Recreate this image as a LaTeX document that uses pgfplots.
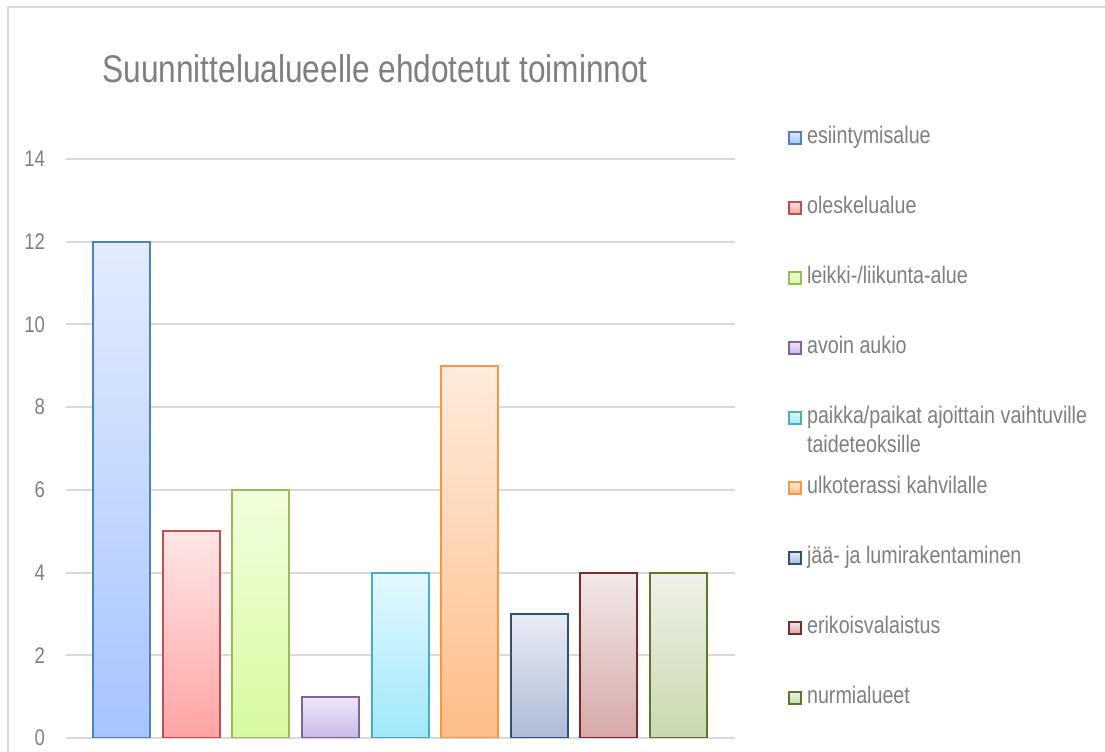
\documentclass[border=0pt]{standalone}
\usepackage{pgfplots}
\pgfplotsset{compat=1.18}
\usepackage{fontspec}
\setmainfont{Liberation Sans}[FakeStretch=0.82]
\definecolor{txt}{RGB}{127,127,127}
\definecolor{gridc}{RGB}{217,217,217}
\definecolor{bA}{HTML}{4F81BD}\definecolor{tA}{HTML}{E2ECFD}\definecolor{uA}{HTML}{A7C4FF}
\definecolor{bB}{HTML}{C0504D}\definecolor{tB}{HTML}{FFE6E6}\definecolor{uB}{HTML}{FFA3A3}
\definecolor{bC}{HTML}{9BBB59}\definecolor{tC}{HTML}{F0FFDD}\definecolor{uC}{HTML}{D7FA9E}
\definecolor{bD}{HTML}{8064A2}\definecolor{tD}{HTML}{EDE8F6}\definecolor{uD}{HTML}{C9B8E8}
\definecolor{bE}{HTML}{4BACC6}\definecolor{tE}{HTML}{E3F8FF}\definecolor{uE}{HTML}{A0E8FB}
\definecolor{bF}{HTML}{F79646}\definecolor{tF}{HTML}{FFEBDC}\definecolor{uF}{HTML}{FDBD88}
\definecolor{bG}{HTML}{2F4F7F}\definecolor{tG}{HTML}{E8ECF4}\definecolor{uG}{HTML}{AEBBD6}
\definecolor{bH}{HTML}{772C2A}\definecolor{tH}{HTML}{F2E8E8}\definecolor{uH}{HTML}{D6A9A8}
\definecolor{bI}{HTML}{5F7530}\definecolor{tI}{HTML}{EEF2E8}\definecolor{uI}{HTML}{C8D8AE}
\begin{document}
\begin{tikzpicture}[x=1pt,y=1pt]
\useasboundingbox (0,0) rectangle (552.5,375.5);
\draw[gridc, line width=1pt] (3.75,-10) |- (600,372);
\begin{axis}[
 at={(33pt,6.5pt)}, anchor=south west,
 scale only axis, width=334.5pt, height=289.5pt,
 xmin=-0.797, xmax=8.81, ymin=0, ymax=14,
 ytick={0,2,...,14}, xtick=\empty,
 axis line style={draw=none}, major tick length=0pt,
 ymajorgrids, grid style={draw=gridc, line width=1pt},
 yticklabel style={font=\fontsize{11.3}{13}\selectfont, text=txt, xshift=-7pt},
 /pgf/number format/assume math mode=true,
 ybar, bar width=28.5pt, bar shift=0pt,
 every axis plot/.append style={line width=1pt},
 title={Suunnittelualueelle ehdotetut toiminnot},
 title style={at={(0.462,1.136)}, anchor=center, font=\fontsize{19.3}{22}\selectfont, text=txt},
 legend style={at={(1.079,1.06)}, anchor=north west, draw=none, fill=none, inner sep=0pt,
   font=\fontsize{12}{14.5}\selectfont, row sep=22pt, column sep=1.5pt,
   nodes={text=txt, inner sep=1pt, text height=8.5pt, text depth=2.5pt}},
 legend cell align=left,
 legend image code/.code={\draw[#1, bar shift=0pt, line width=0.9pt] (0pt,-3pt) rectangle (6pt,3pt);},
]
\addplot[draw=bA, top color=tA, bottom color=uA] coordinates {(0,12)};
\addlegendentry{esiintymisalue}
\addplot[draw=bB, top color=tB, bottom color=uB] coordinates {(1,5)};
\addlegendentry{oleskelualue}
\addplot[draw=bC, top color=tC, bottom color=uC] coordinates {(2,6)};
\addlegendentry{leikki-/liikunta-alue}
\addplot[draw=bD, top color=tD, bottom color=uD] coordinates {(3,1)};
\addlegendentry{avoin aukio}
\addplot[draw=bE, top color=tE, bottom color=uE] coordinates {(4,4)};
\addlegendentry{\smash{\begin{tabular}[t]{@{}l@{}}paikka/paikat ajoittain vaihtuville\\taideteoksille\end{tabular}}}
\addplot[draw=bF, top color=tF, bottom color=uF] coordinates {(5,9)};
\addlegendentry{ulkoterassi kahvilalle}
\addplot[draw=bG, top color=tG, bottom color=uG] coordinates {(6,3)};
\addlegendentry{jää- ja lumirakentaminen}
\addplot[draw=bH, top color=tH, bottom color=uH] coordinates {(7,4)};
\addlegendentry{erikoisvalaistus}
\addplot[draw=bI, top color=tI, bottom color=uI] coordinates {(8,4)};
\addlegendentry{nurmialueet}
\end{axis}
\end{tikzpicture}
\end{document}
